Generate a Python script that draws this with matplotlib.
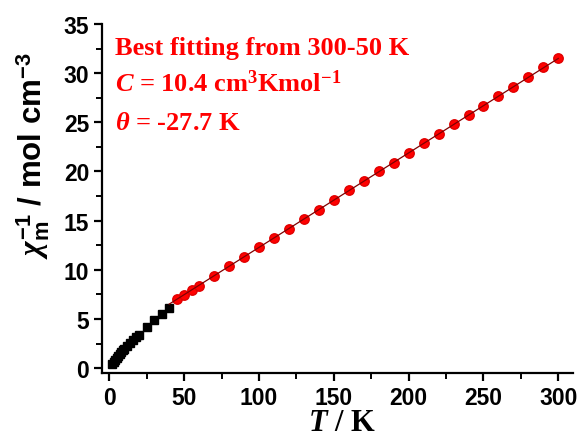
import matplotlib
matplotlib.use("Agg")
import matplotlib.pyplot as plt
from matplotlib.ticker import MultipleLocator

# low temperature points (black squares)
T_low = [2, 3, 4, 5, 6, 7, 8, 9, 10, 12, 14, 16, 18, 20, 25, 30, 35, 40]
chi_inv_low = [0.4, 0.6, 0.8, 1.0, 1.2, 1.4, 1.6, 1.8, 1.95, 2.3, 2.6, 2.9,
               3.15, 3.4, 4.2, 4.9, 5.5, 6.1]

# fitted range points (red circles)
T_fit = [45, 50, 55, 60, 70, 80, 90, 100, 110, 120, 130, 140, 150, 160, 170,
         180, 190, 200, 210, 220, 230, 240, 250, 260, 270, 280, 290, 300]
chi_inv_fit = [7.0, 7.45, 7.9, 8.4, 9.4, 10.4, 11.3, 12.3, 13.2, 14.2, 15.2,
               16.1, 17.1, 18.1, 19.0, 20.0, 20.9, 21.9, 22.9, 23.8, 24.8,
               25.7, 26.7, 27.7, 28.6, 29.6, 30.6, 31.5]

# Curie-Weiss fit line end points
line_T = [40, 300]
line_y = [6.51, 31.5]

plt.rcParams['mathtext.fontset'] = 'custom'
plt.rcParams['mathtext.rm'] = 'Liberation Serif:bold'
plt.rcParams['mathtext.it'] = 'Liberation Serif:italic:bold'
plt.rcParams['mathtext.bf'] = 'Liberation Serif:bold'
plt.rcParams['mathtext.sf'] = 'Liberation Sans:bold'

fig = plt.figure(figsize=(5.82, 4.39), dpi=100)
ax = fig.add_axes([0.175, 0.148, 0.81, 0.795])

ax.plot(T_low, chi_inv_low, 's', color='black', ms=5.2, zorder=3)
ax.plot(T_fit, chi_inv_fit, 'o', color='red', mec='#e00000', ms=6.8, zorder=3)
ax.plot(line_T, line_y, '-', color='#800000', lw=0.9, zorder=4)

ax.set_xlim(-5, 310)
ax.set_ylim(-0.5, 35)
ax.xaxis.set_major_locator(MultipleLocator(50))
ax.xaxis.set_minor_locator(MultipleLocator(25))
ax.yaxis.set_major_locator(MultipleLocator(5))
ax.yaxis.set_minor_locator(MultipleLocator(2.5))

for s in ['top', 'right']:
    ax.spines[s].set_visible(False)
for s in ['left', 'bottom']:
    ax.spines[s].set_linewidth(1.6)

ax.tick_params(which='major', direction='out', length=6, width=1.6,
               labelsize=16.5, pad=3)
ax.tick_params(which='minor', direction='out', length=4, width=1.4)
for lab in ax.get_xticklabels() + ax.get_yticklabels():
    lab.set_family('Liberation Sans')
    lab.set_fontweight('bold')

ax.set_xlabel(r'$T$ / K', family='Liberation Serif', fontweight='bold',
              fontsize=22)
ax.xaxis.set_label_coords(0.51, -0.1)
ax.set_ylabel(r'$\mathit{\chi}_{\mathsf{m}}^{\mathsf{-1}}$ / mol cm$^{\mathsf{-3}}$',
              family='Liberation Sans', fontweight='bold', fontsize=22.5)
ax.yaxis.set_label_coords(-0.105, 0.625)

red_kw = dict(transform=ax.transAxes, color='red', family='Liberation Serif',
              fontweight='bold', fontsize=19, ha='left', va='baseline')
ax.text(0.028, 0.915, 'Best fitting from 300-50 K', **red_kw)
ax.text(0.028, 0.808, r'$C$ = 10.4 cm$^{3}$Kmol$^{-1}$', **red_kw)
ax.text(0.028, 0.700, r'$\theta$ = -27.7 K', **red_kw)

fig.savefig('out.png', dpi=100)
